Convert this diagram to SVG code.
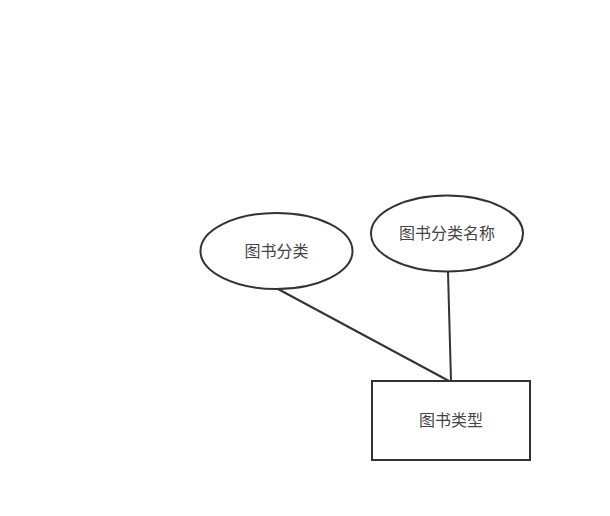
<svg xmlns="http://www.w3.org/2000/svg" width="610" height="516" viewBox="0 0 610 516">
<style>
.shape{fill:#fff;stroke:#333;stroke-width:2}
.edge{stroke:#333;stroke-width:2;fill:none}
.lbl{font-family:"Liberation Sans","Noto Sans CJK SC",sans-serif;font-size:16px;fill:#444;text-anchor:middle;dominant-baseline:central}
</style>
<rect width="610" height="516" fill="#fff"/>
<g id="connectors">
<line class="edge" x1="278" y1="289" x2="449" y2="381"/>
<line class="edge" x1="448" y1="272" x2="451" y2="381"/>
</g>
<g id="node-fenlei">
<ellipse class="shape" cx="276.5" cy="251" rx="76" ry="38"/>
<text class="lbl" x="276.5" y="251">图书分类</text>
</g>
<g id="node-mingcheng">
<ellipse class="shape" cx="447" cy="233.5" rx="76" ry="38"/>
<text class="lbl" x="447" y="233.5">图书分类名称</text>
</g>
<g id="node-leixing">
<rect class="shape" x="372" y="381" width="158" height="79"/>
<text class="lbl" x="451" y="420.5">图书类型</text>
</g>
</svg>
